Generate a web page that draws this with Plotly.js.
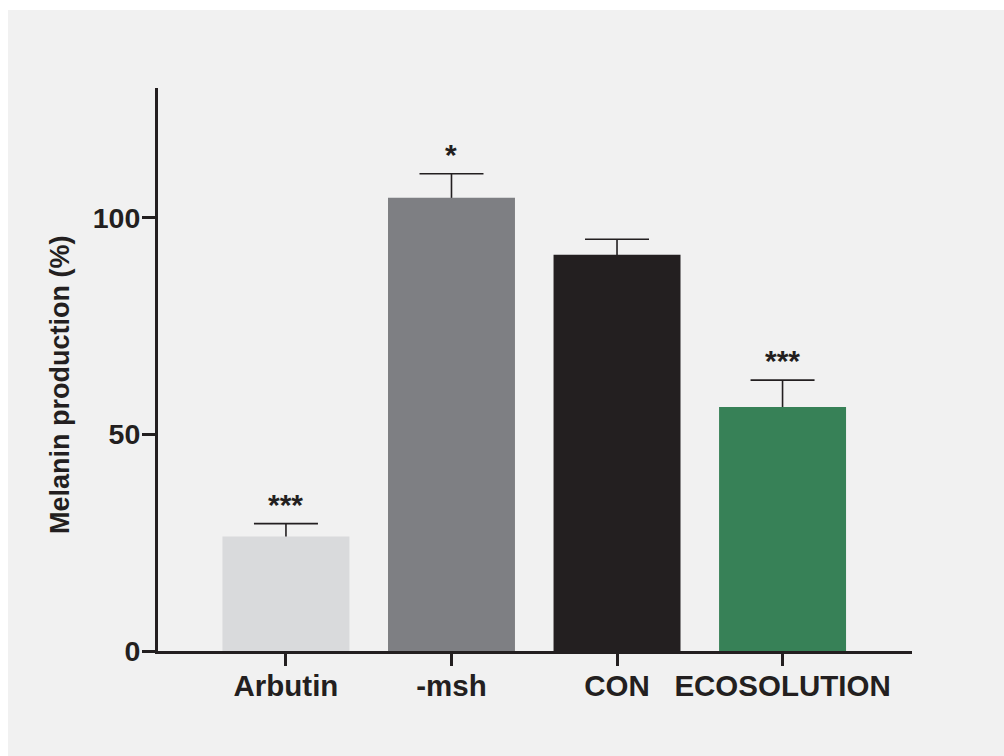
<!DOCTYPE html>
<html>
<head>
<meta charset="utf-8">
<script src="https://cdn.plot.ly/plotly-3.0.1.min.js"></script>
<style>
  html, body { margin: 0; padding: 0; background: #ffffff; width: 1004px; height: 756px; overflow: hidden; }
  #chart { position: absolute; left: 8px; top: 10px; width: 996px; height: 746px; }
</style>
</head>
<body>
<div id="chart"></div>
<script>
// Data
const categories = ["Arbutin", "-msh", "CON", "ECOSOLUTION"];
const values = [26.4, 104.6, 91.4, 56.3];
const errorsUp = [3.0, 5.5, 3.6, 6.2];
const significance = ["***", "*", "", "***"];
const barColors = ["#d9dadc", "#7e7f83", "#231f20", "#378157"];
const yTickVals = [0, 50, 100];
const yTitle = "Melanin production (%)";

const ink = "#231f20";
const fontFamily = "'Liberation Sans', Arial, Helvetica, sans-serif";
const xIdx = categories.map((c, i) => i);

// Error bars on a hidden trace drawn behind the bars (so only the upper whisker shows)
const errTrace = {
  type: "bar",
  x: xIdx,
  y: values,
  width: 0.767,
  marker: { color: "rgba(0,0,0,0)" },
  error_y: {
    type: "data",
    symmetric: false,
    array: errorsUp,
    arrayminus: values,
    color: ink,
    thickness: 1.6,
    width: 32
  },
  hoverinfo: "skip",
  showlegend: false
};

const barTrace = {
  type: "bar",
  x: xIdx,
  y: values,
  width: 0.767,
  marker: { color: barColors, line: { width: 0 } },
  showlegend: false
};

const annotations = categories.map((c, i) => ({
  x: i,
  y: values[i] + errorsUp[i],
  xref: "x",
  yref: "y",
  text: significance[i],
  showarrow: false,
  yanchor: "bottom",
  yshift: 1,
  font: { family: fontFamily, size: 30, color: ink, weight: "bold" }
})).filter(a => a.text !== "");

annotations.push({
  xref: "paper",
  yref: "paper",
  x: -0.13,
  y: 0.4725,
  xanchor: "center",
  yanchor: "middle",
  textangle: -90,
  text: yTitle,
  showarrow: false,
  font: { family: fontFamily, size: 27, color: ink, weight: "bold" }
});

const layout = {
  width: 996,
  height: 746,
  margin: { l: 150, r: 92, t: 78, b: 105, pad: 0 },
  paper_bgcolor: "#f1f1f1",
  plot_bgcolor: "rgba(0,0,0,0)",
  barmode: "overlay",
  showlegend: false,
  font: { family: fontFamily, color: ink },
  xaxis: {
    range: [-0.773, 3.782],
    tickmode: "array",
    tickvals: xIdx,
    ticktext: categories,
    ticks: "outside",
    ticklen: 12,
    tickwidth: 3,
    tickcolor: ink,
    showline: true,
    linecolor: ink,
    linewidth: 3,
    showgrid: false,
    zeroline: false,
    tickfont: { family: fontFamily, size: 29.5, color: ink, weight: "bold" },
    ticklabelstandoff: -5
  },
  yaxis: {
    range: [0, 129.9],
    tickmode: "array",
    tickvals: yTickVals,
    ticktext: yTickVals.map(String),
    ticks: "outside",
    ticklen: 13,
    tickwidth: 3,
    tickcolor: ink,
    showline: true,
    linecolor: ink,
    linewidth: 3,
    showgrid: false,
    zeroline: false,
    tickfont: { family: fontFamily, size: 28.5, color: ink, weight: "bold" },
    ticklabelstandoff: -4
  },
  annotations: annotations
};

Plotly.newPlot("chart", [errTrace, barTrace], layout, { displayModeBar: false, staticPlot: true });
</script>
</body>
</html>
